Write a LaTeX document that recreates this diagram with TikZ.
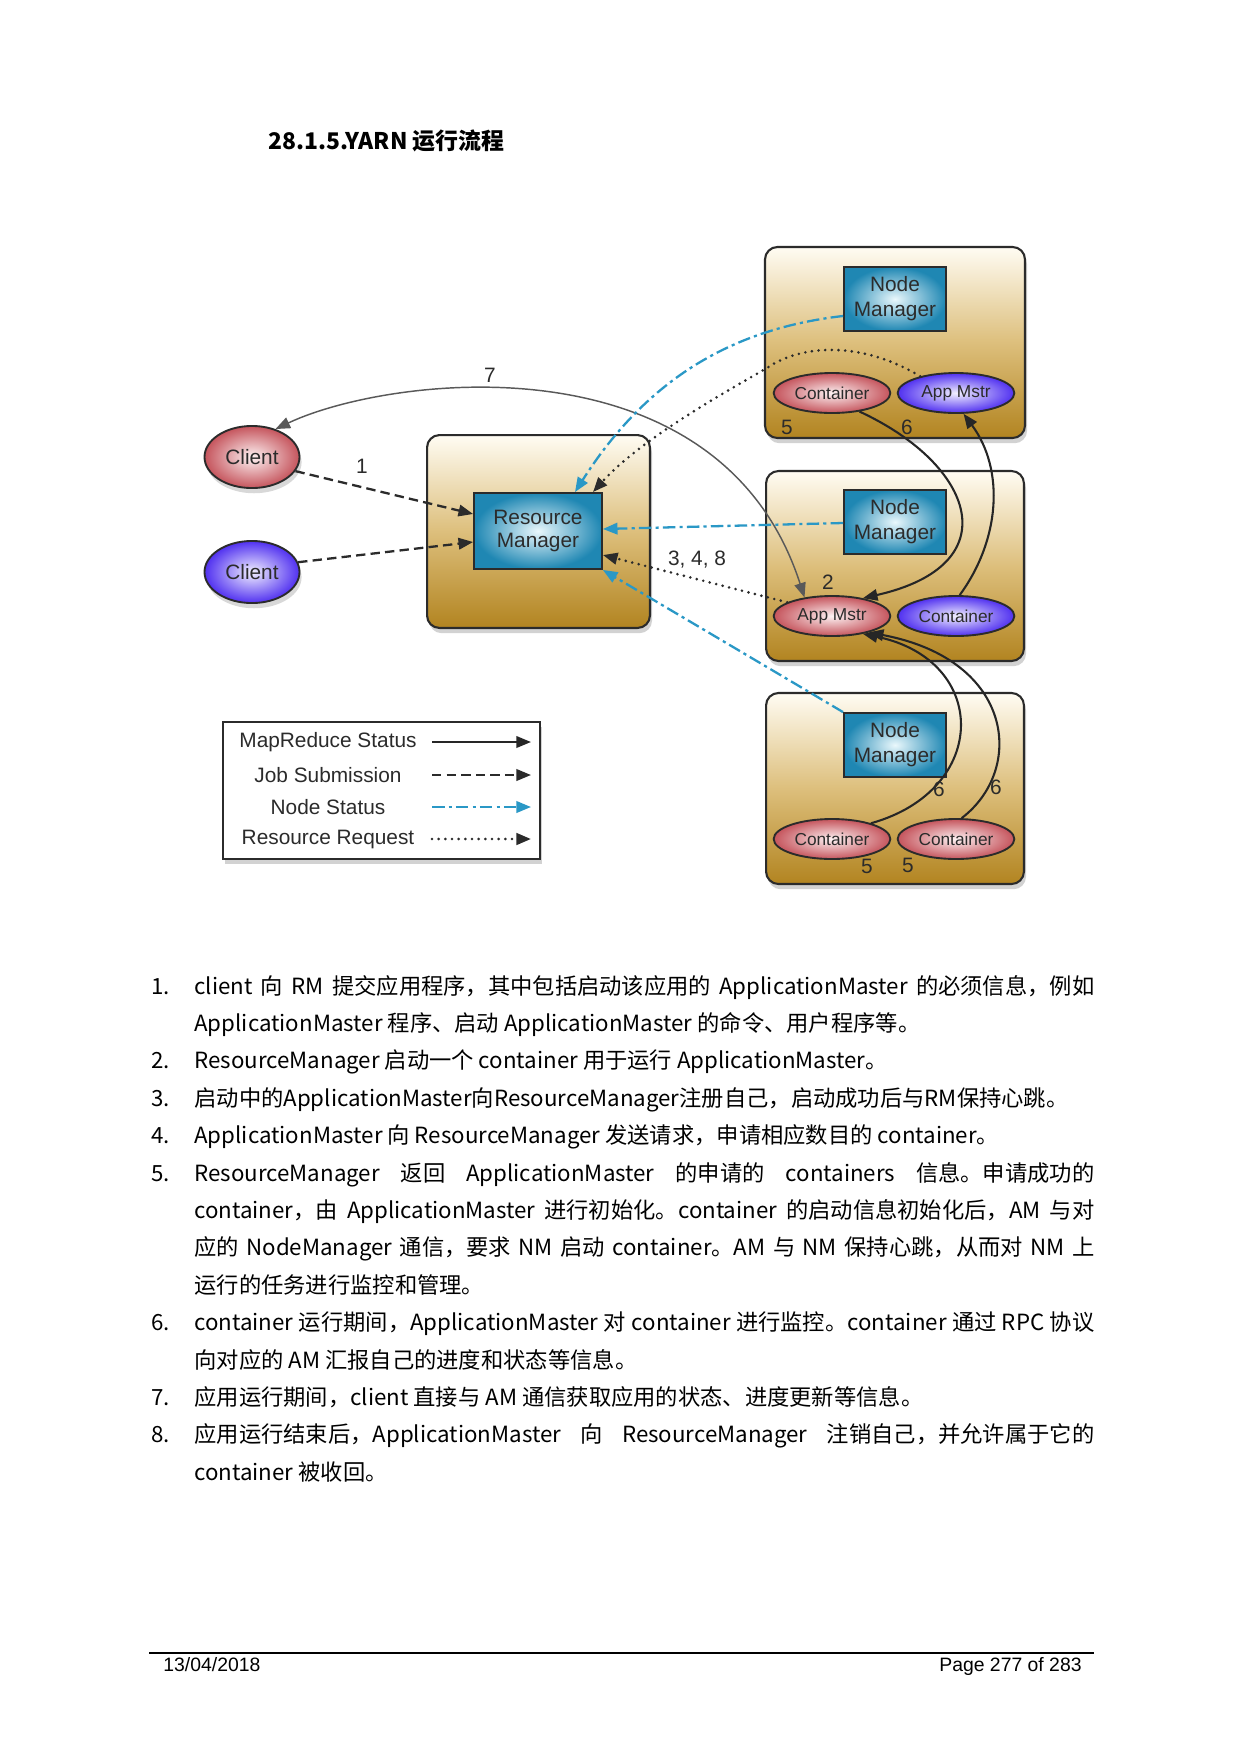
\documentclass[tikz,border=0pt]{standalone}
\usepackage{fontspec}
\setmainfont{Noto Sans CJK SC}
\newfontfamily\dfont{Liberation Sans}
\usetikzlibrary{arrows.meta,shapes.geometric,shadows,calc}
\definecolor{boxtop}{HTML}{FFFCF3}
\definecolor{boxmid}{HTML}{DDBF7C}
\definecolor{boxbot}{HTML}{B28420}
\definecolor{nmin}{HTML}{EAF8FC}
\definecolor{nmout}{HTML}{1F87B3}
\definecolor{redout}{HTML}{C5545C}
\definecolor{redin}{HTML}{FDF2F3}
\definecolor{purout}{HTML}{5030F0}
\definecolor{purin}{HTML}{F2F0FF}
\definecolor{nsblue}{HTML}{2A98C6}
\definecolor{edge}{HTML}{2B2B2B}
\newcommand{\jl}[1]{\makebox[432pt][s]{#1}}
\begin{document}
\begin{tikzpicture}[x=0.48pt,y=-0.48pt,
  outerbox/.style={draw=edge, line width=1pt, rounded corners=6pt,
    top color=boxtop, bottom color=boxbot, middle color=boxmid,
    drop shadow={shadow xshift=1pt,shadow yshift=-2.5pt,opacity=0.35}, inner sep=0pt},
  mgr/.style={draw=edge, line width=0.9pt, inner color=nmin, outer color=nmout,
    minimum width=49pt, minimum height=30.7pt, align=center, inner sep=0pt,
    font=\dfont\fontsize{10}{12}\selectfont, text=edge},
  ellbase/.style={ellipse, draw=edge, line width=0.9pt, minimum width=56pt,
    minimum height=19.2pt, inner sep=0pt, font=\dfont\fontsize{8.3}{9}\selectfont, text=edge},
  redell/.style={ellbase, inner color=redin, outer color=redout},
  purell/.style={ellbase, inner color=purin, outer color=purout},
  clientell/.style={minimum width=45.6pt, minimum height=29.8pt,
    font=\dfont\fontsize{10}{12}\selectfont,
    drop shadow={shadow xshift=1pt,shadow yshift=-2.5pt,opacity=0.3}},
  lbl/.style={font=\dfont\fontsize{10}{12}\selectfont, text=edge, inner sep=0pt},
  tip/.style={-{Triangle[length=7pt,width=5.5pt]}},
  mrs/.style={tip, draw=black!85, line width=1pt},
  jobsub/.style={tip, draw=edge, line width=1.1pt, dash pattern=on 4.5pt off 2.5pt},
  nodestat/.style={tip, draw=nsblue, line width=1.1pt, dash pattern=on 6pt off 2pt on 1.5pt off 2pt},
  resreq/.style={tip, draw=edge, line width=1.4pt, line cap=round, dash pattern=on 0pt off 3.2pt},
  bodytxt/.style={anchor=base west, inner sep=0pt, font=\fontsize{10.7}{13}\selectfont},
  lgtxt/.style={font=\dfont\fontsize{10}{12}\selectfont, text=edge, inner sep=0pt},
  foot/.style={inner sep=0pt, font=\dfont\fontsize{9.3}{11}\selectfont}
]
\useasboundingbox[fill=white] (0,0) rectangle (1240,1754);

% title
\node[anchor=base west, inner sep=0pt, font=\fontsize{11}{13}\selectfont\bfseries] (title) at (268,149) {28.1.5.YARN 运行流程};

% outer boxes
\node[outerbox, minimum width=107pt, minimum height=92.6pt] (rmbox) at (538.5,531.5) {};
\node[outerbox, minimum width=124.8pt, minimum height=91.7pt] (nmbox1) at (895,342.5) {};
\node[outerbox, minimum width=123.8pt, minimum height=91.2pt] (nmbox2) at (895,566) {};
\node[outerbox, minimum width=123.8pt, minimum height=91.7pt] (nmbox3) at (895,788.5) {};

% managers
\node[mgr, minimum width=61.4pt, minimum height=36.5pt, font=\dfont\fontsize{10}{11.5}\selectfont] (rm) at (538,531) {Resource\\Manager};
\node[mgr] (nm1) at (895,299) {Node\\Manager};
\node[mgr] (nm2) at (895,522) {Node\\Manager};
\node[mgr] (nm3) at (895,745) {Node\\Manager};

% ellipses
\node[redell] (ct1) at (832,393) {Container};
\node[purell] (am1) at (956,393) {App Mstr};
\node[redell] (am2) at (832,616) {App Mstr};
\node[purell] (ct2) at (956,616) {Container};
\node[redell] (ct3) at (832,839) {Container};
\node[redell] (ct4) at (956,839) {Container};
\node[redell, clientell] (c1) at (252,457) {Client};
\node[purell, clientell] (c2) at (252,572) {Client};

% job submission
\draw[jobsub] (c1.-18) -- ($(rm.west)+(0,-17)$);
\draw[jobsub] (c2.12) -- ($(rm.west)+(0,11)$);

% MapReduce status 7 (client <-> app master)
\draw[{Triangle[length=7pt,width=5.5pt]}-{Triangle[length=7pt,width=5.5pt]}, draw=black!65, line width=0.7pt]
  (c1.50) .. controls (390,375) and (720,335) .. (am2.146);

% node status
\draw[nodestat] ($(nm1.west)+(0,17)$) .. controls (720,330) and (640,390) .. ($(rm.north)+(37,0)$);
\draw[nodestat] ($(nm2.west)+(0,1)$) -- ($(rm.east)+(0,-2)$);
\draw[nodestat] (nm3.north west) -- (rm.south east);

% resource request
\draw[resreq] (am1.155) .. controls (860,340) and (800,345) .. (767,368)
  .. controls (720,395) and (640,440) .. ($(rm.north)+(55,0)$);
\draw[resreq] (am2.163) -- ($(rm.east)+(0,24)$);

% MapReduce status among containers
\draw[mrs] (ct1.-34) .. controls (975,465) and (1010,565) .. (am2.30);
\draw[mrs] (ct2.80) .. controls (1000,540) and (1005,470) .. (am1.-70);
\draw[mrs] (ct3.22) .. controls (990,790) and (990,660) .. (am2.-30);
\draw[mrs] (ct4.75) .. controls (1025,770) and (1015,660) .. (am2.-24);

% labels
\node[lbl] (l7) at (490,375) {7};
\node[lbl] (l1) at (362,466) {1};
\node[lbl] (l2) at (828,582) {2};
\node[lbl] (l348) at (697,560) {3, 4, 8};
\node[lbl] (l5a) at (787,427) {5};
\node[lbl] (l6a) at (907,427) {6};
\node[lbl] (l6b) at (939,789) {6};
\node[lbl] (l6c) at (996,787) {6};
\node[lbl] (l5b) at (867,866) {5};
\node[lbl] (l5c) at (908,865) {5};

% legend
\node[draw=edge, fill=white, line width=1.2pt, minimum width=152pt, minimum height=65.8pt,
  drop shadow={shadow xshift=1pt,shadow yshift=-2.5pt,opacity=0.35}] (leg) at (381.5,790.5) {};
\node[lgtxt] (lg1) at (328,742) {MapReduce Status};
\node[lgtxt] (lg2) at (328,775) {Job Submission};
\node[lgtxt] (lg3) at (328,807) {Node Status};
\node[lgtxt] (lg4) at (328,839) {Resource Request};
\coordinate (la1) at (432,742); \coordinate (lb1) at (531,742);
\coordinate (la2) at (432,775); \coordinate (lb2) at (531,775);
\coordinate (la3) at (432,807); \coordinate (lb3) at (531,807);
\coordinate (la4) at (432,839); \coordinate (lb4) at (531,839);
\draw[mrs] (la1) -- (lb1);
\draw[jobsub] (la2) -- (lb2);
\draw[nodestat] (la3) -- (lb3);
\draw[resreq] (la4) -- (lb4);

% body text
\node[bodytxt] (n1) at (151,994) {1.};
\node[bodytxt] (t1) at (194,994) {\jl{client 向 RM 提交应用程序，其中包括启动该应用的 ApplicationMaster 的必须信息，例如}};
\node[bodytxt] (t2) at (194,1031.4) {ApplicationMaster 程序、启动 ApplicationMaster 的命令、用户程序等。};
\node[bodytxt] (n2) at (151,1068.8) {2.};
\node[bodytxt] (t3) at (194,1068.8) {ResourceManager 启动一个 container 用于运行 ApplicationMaster。};
\node[bodytxt] (n3) at (151,1106.2) {3.};
\node[bodytxt] (t4) at (194,1106.2) {启动中的ApplicationMaster向ResourceManager注册自己，启动成功后与RM保持心跳。};
\node[bodytxt] (n4) at (151,1143.6) {4.};
\node[bodytxt] (t5) at (194,1143.6) {ApplicationMaster 向 ResourceManager 发送请求，申请相应数目的 container。};
\node[bodytxt] (n5) at (151,1181) {5.};
\node[bodytxt] (t6) at (194,1181) {\jl{ResourceManager 返回 ApplicationMaster 的申请的 containers 信息。申请成功的}};
\node[bodytxt] (t7) at (194,1218.4) {\jl{container，由 ApplicationMaster 进行初始化。container 的启动信息初始化后，AM 与对}};
\node[bodytxt] (t8) at (194,1255.8) {\jl{应的 NodeManager 通信，要求 NM 启动 container。AM 与 NM 保持心跳，从而对 NM 上}};
\node[bodytxt] (t9) at (194,1293.2) {运行的任务进行监控和管理。};
\node[bodytxt] (n6) at (151,1330.6) {6.};
\node[bodytxt] (t10) at (194,1330.6) {\jl{container 运行期间，ApplicationMaster 对 container 进行监控。container 通过 RPC 协议}};
\node[bodytxt] (t11) at (194,1368) {向对应的 AM 汇报自己的进度和状态等信息。};
\node[bodytxt] (n7) at (151,1405.4) {7.};
\node[bodytxt] (t12) at (194,1405.4) {应用运行期间，client 直接与 AM 通信获取应用的状态、进度更新等信息。};
\node[bodytxt] (n8) at (151,1442.8) {8.};
\node[bodytxt] (t13) at (194,1442.8) {\jl{应用运行结束后，ApplicationMaster 向 ResourceManager 注销自己，并允许属于它的}};
\node[bodytxt] (t14) at (194,1480.2) {container 被收回。};

% footer
\coordinate (fl) at (149,1653); \coordinate (fr) at (1094,1653);
\draw[line width=0.6pt] (fl) -- (fr);
\node[foot, anchor=base west] (date) at (163,1671) {13/04/2018};
\node[foot, anchor=base east] (page) at (1082,1671) {Page 277 of 283};
\end{tikzpicture}
\end{document}
